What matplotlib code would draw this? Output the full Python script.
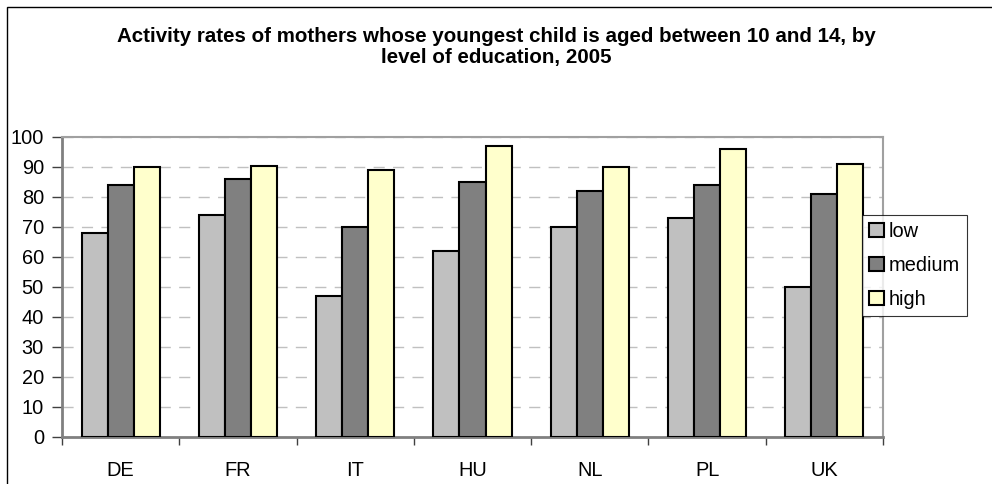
import matplotlib
matplotlib.use('Agg')
import matplotlib.pyplot as plt
from matplotlib.patches import Rectangle
import numpy as np

# Data
countries = ['DE', 'FR', 'IT', 'HU', 'NL', 'PL', 'UK']
low = [68, 74, 47, 62, 70, 73, 50]
medium = [84, 86, 70, 85, 82, 84, 81]
high = [90, 90.5, 89, 97, 90, 96, 91]
series_names = ['low', 'medium', 'high']
y_ticks = list(range(0, 101, 10))

COLORS = ['#c0c0c0', '#808080', '#ffffcc']
FONT = 'Liberation Sans'
FS = 14.4

plt.rcParams.update({
    'font.family': FONT,
    'font.size': FS,
})

W, H = 992, 484
fig = plt.figure(figsize=(W / 100, H / 100), dpi=100)
fig.patch.set_facecolor('white')

# outer chart-area border (only left/top visible in the reference)
fig.add_artist(Rectangle((7 / W, -0.1), 1.2, (H - 7) / H + 0.1, transform=fig.transFigure,
                         facecolor='none', edgecolor='black', linewidth=1.0))

ax = fig.add_axes([62 / W, 47 / H, 821 / W, 300 / H])

x = np.arange(len(countries))
bw = 0.222
for i, (vals, name, col) in enumerate(zip([low, medium, high], series_names, COLORS)):
    ax.bar(x + (i - 1) * bw, vals, width=bw, color=col, edgecolor='black',
           linewidth=1.5, label=name, zorder=3)

ax.set_xlim(-0.5, len(countries) - 0.5)
ax.set_ylim(0, 100)
ax.set_yticks(y_ticks)
ax.yaxis.grid(True, color='#c0c0c0', linestyle=(0, (8, 6)), linewidth=1.0, zorder=0)
ax.tick_params(axis='y', direction='out', length=7, width=1, color='#404040',
               labelsize=FS, pad=6)

# category labels centred, ticks at category boundaries
ax.set_xticks(x)
ax.set_xticklabels(countries)
ax.tick_params(axis='x', which='major', length=0, labelsize=FS, pad=17)
ax.set_xticks(np.arange(-0.5, len(countries)), minor=True)
ax.tick_params(axis='x', which='minor', direction='out', length=6, width=1, color='#404040')

for side in ['top', 'right']:
    ax.spines[side].set_color('#a0a0a0')
    ax.spines[side].set_linewidth(1.5)
for side in ['left', 'bottom']:
    ax.spines[side].set_color('#808080')
    ax.spines[side].set_linewidth(2)

fig.text(496 / W, 1 - 47 / H,
         'Activity rates of mothers whose youngest child is aged between 10 and 14, by\n'
         'level of education, 2005',
         ha='center', va='center', fontsize=14.8, fontweight='bold', linespacing=1.08)

leg = ax.legend(loc='upper left', bbox_to_anchor=(862 / W, 1 - 215 / H),
                bbox_transform=fig.transFigure, frameon=True, fancybox=False,
                edgecolor='black', fontsize=FS, handlelength=0.75, handleheight=0.75,
                handletextpad=0.25, labelspacing=0.75, borderpad=0.35, borderaxespad=0)
leg.get_frame().set_linewidth(0.8)
leg.set_zorder(5)

fig.savefig('out.png', dpi=100, facecolor='white')
